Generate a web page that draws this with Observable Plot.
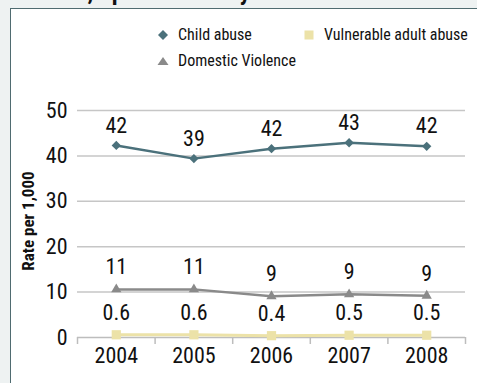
<!DOCTYPE html>
<html>
<head>
<meta charset="utf-8">
<script src="https://cdn.jsdelivr.net/npm/d3@7"></script>
<script src="https://cdn.jsdelivr.net/npm/@observablehq/plot@0.6"></script>
<style>
  html, body { margin: 0; padding: 0; }
  body { width: 477px; height: 383px; overflow: hidden; background: #eef2f2; position: relative;
         font-family: "Liberation Sans Narrow", "Roboto Condensed", "DejaVu Sans Condensed", sans-serif; }
  #title { position: absolute; left: 30px; top: -22px; font-weight: bold; font-size: 24px; color: #111; white-space: nowrap; }
  #panel { position: absolute; left: 10px; top: 8px; width: 480px; height: 400px; background: #fff; border: 1.5px solid #4f6b70; box-sizing: border-box; }
  #chart { position: absolute; left: 0; top: 0; }
  .leg { position: absolute; font-size: 16px; color: #111; display: flex; align-items: center; white-space: nowrap; }
  .leg svg { margin-right: 9px; }
</style>
</head>
<body>
<div id="title">abuse, Spencer County</div>
<div id="panel"></div>
<div id="chart"></div>
<script>
const years = ["2004", "2005", "2006", "2007", "2008"];
const childAbuse = [42.3, 39.4, 41.6, 42.9, 42.1];
const domesticViolence = [10.6, 10.6, 9.1, 9.5, 9.2];
const vulnerableAdult = [0.6, 0.6, 0.4, 0.5, 0.5];
const childLabels = ["42", "39", "42", "43", "42"];
const domesticLabels = ["11", "11", "9", "9", "9"];
const vulnerableLabels = ["0.6", "0.6", "0.4", "0.5", "0.5"];
const yTicks = [0, 10, 20, 30, 40, 50];
const gridTicks = [10, 20, 30, 40, 50];
const yTitle = "Rate per 1,000";

const seriesNames = ["Child abuse", "Domestic Violence", "Vulnerable adult abuse"];
const colors = ["#4b717b", "#8a8a8a", "#ece2a8"];
const symbols = ["diamond2", "triangle", "square"];

const xNum = years.map(Number);
const boundaries = [xNum[0] - 0.5, ...xNum.map(v => v + 0.5)];

function rows(vals, labels) {
  return years.map((y, i) => ({x: +y, v: vals[i], label: labels[i]}));
}
const child = rows(childAbuse, childLabels);
const dom = rows(domesticViolence, domesticLabels);
const vul = rows(vulnerableAdult, vulnerableLabels);

const font = '"Liberation Sans Narrow", "Roboto Condensed", "DejaVu Sans Condensed", sans-serif';
const fs = 22;

const plot = Plot.plot({
  width: 477,
  height: 383,
  marginLeft: 77,
  marginRight: 12,
  marginTop: 110,
  marginBottom: 46,
  style: {background: "transparent", fontFamily: font, fontSize: fs + "px", color: "#111"},
  x: {type: "linear", domain: [boundaries[0], boundaries[boundaries.length - 1]]},
  y: {domain: [0, 50]},
  marks: [
    Plot.ruleY(gridTicks, {stroke: "#c6c6c6", strokeWidth: 1.5}),
    Plot.ruleY([0], {stroke: "#bdbdbd", strokeWidth: 1.5}),
    Plot.axisX({ticks: boundaries, tickFormat: () => "", tickSize: 7, stroke: "#bdbdbd", strokeWidth: 1.5, label: null}),
    Plot.axisX({ticks: xNum, tickFormat: d => String(d), tickSize: 0, tickPadding: 10, fontSize: fs, fill: "#111", label: null}),
    Plot.axisY({ticks: yTicks, tickSize: 0, tickPadding: 10, fontSize: fs, fill: "#111", label: null}),
    Plot.text([yTitle], {frameAnchor: "left", textAnchor: "middle", rotate: -90, dx: -49, dy: -3, fontSize: 17, fontWeight: "bold", fill: "#111"}),

    Plot.line(vul, {x: "x", y: "v", stroke: colors[2], strokeWidth: 3}),
    Plot.dot(vul, {x: "x", y: "v", symbol: symbols[2], r: 5.2, fill: colors[2], stroke: "none"}),
    Plot.text(vul, {x: "x", y: "v", text: "label", dy: -22, fontSize: fs, fill: "#111"}),

    Plot.line(dom, {x: "x", y: "v", stroke: colors[1], strokeWidth: 2.5}),
    Plot.dot(dom, {x: "x", y: "v", symbol: symbols[1], r: 3.8, fill: colors[1], stroke: "none"}),
    Plot.text(dom, {x: "x", y: "v", text: "label", dy: -22, fontSize: fs, fill: "#111"}),

    Plot.line(child, {x: "x", y: "v", stroke: colors[0], strokeWidth: 2.5}),
    Plot.dot(child, {x: "x", y: "v", symbol: symbols[0], r: 4.2, fill: colors[0], stroke: "none"}),
    Plot.text(child, {x: "x", y: "v", text: "label", dy: -20, fontSize: fs, fill: "#111"})
  ]
});
document.getElementById("chart").appendChild(plot);

// Legend
const legendPos = [[157, 25], [157, 51], [303, 25]];
const symPaths = {
  "diamond2": '<path d="M6,1 L11,6 L6,11 L1,6 Z"/>',
  "triangle": '<path d="M6,2 L11.5,10 L0.5,10 Z"/>',
  "square": '<rect x="1.5" y="1.5" width="9" height="9"/>'
};
seriesNames.forEach((name, i) => {
  const d = document.createElement("div");
  d.className = "leg";
  d.style.left = legendPos[i][0] + "px";
  d.style.top = legendPos[i][1] + "px";
  d.innerHTML = `<svg width="12" height="12" fill="${colors[i]}">${symPaths[symbols[i]]}</svg><span>${name}</span>`;
  document.body.appendChild(d);
});
</script>
</body>
</html>
